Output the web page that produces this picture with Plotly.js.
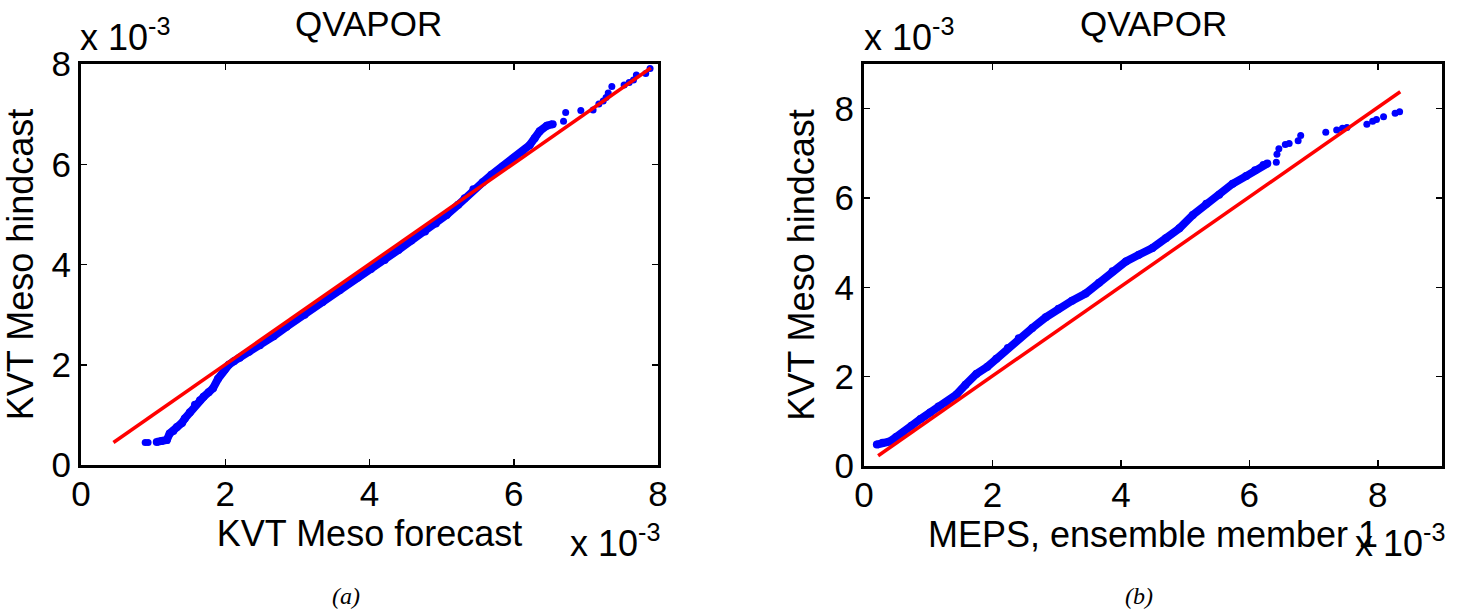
<!DOCTYPE html>
<html>
<head>
<meta charset="utf-8">
<script src="https://cdn.plot.ly/plotly-3.0.1.min.js"></script>
<style>html,body{margin:0;padding:0;background:#fff;}#chart{width:1459px;height:612px;}</style>
</head>
<body>
<div id="chart"></div>
<script>
// ---- Data (values in units of 1e-3) ----
const titleText = "QVAPOR";
const tickVals = [0, 2, 4, 6, 8];

// Panel (a): KVT Meso forecast vs KVT Meso hindcast
const aDenseX = [1.05,1.12,1.19,1.23,1.28,1.33,1.40,1.44,1.51,1.58,1.65,1.70,1.77,1.83,1.90,1.99,2.05,2.12,2.20,2.33,2.48,2.67,2.85,3.10,3.35,3.59,3.84,4.02,4.21,4.40,4.58,4.77,4.92,5.07,5.23,5.32,5.44,5.57,5.69,5.85,6.00,6.12,6.22,6.29,6.36,6.46,6.54];
const aDenseY = [0.46,0.48,0.50,0.63,0.68,0.76,0.84,0.93,1.05,1.20,1.29,1.36,1.45,1.53,1.72,1.90,2.00,2.07,2.14,2.26,2.39,2.57,2.76,3.00,3.25,3.49,3.74,3.91,4.09,4.29,4.48,4.66,4.82,4.99,5.19,5.32,5.50,5.64,5.79,5.96,6.12,6.24,6.38,6.52,6.66,6.77,6.80];
const aSparseX = [0.89,0.93,6.69,6.72,6.93,7.10,7.18,7.24,7.28,7.31,7.36,7.53,7.60,7.66,7.70,7.83,7.89];
const aSparseY = [0.45,0.45,6.86,7.03,7.07,7.08,7.20,7.26,7.33,7.42,7.55,7.58,7.63,7.68,7.78,7.81,7.91];
const aRefX = [0.45, 7.90];
const aRefY = [0.45, 7.92];

// Panel (b): MEPS ensemble member 1 vs KVT Meso hindcast
const bDenseX = [0.20,0.29,0.40,0.50,0.61,0.74,0.88,1.03,1.16,1.29,1.44,1.58,1.75,1.92,2.06,2.24,2.41,2.62,2.83,3.03,3.24,3.45,3.66,3.87,4.08,4.28,4.49,4.70,4.91,5.12,5.33,5.53,5.74,5.95,6.09,6.22,6.28];
const bDenseY = [0.48,0.52,0.55,0.65,0.75,0.90,1.05,1.20,1.33,1.42,1.60,1.82,2.06,2.22,2.40,2.64,2.86,3.09,3.33,3.52,3.70,3.86,4.10,4.36,4.58,4.73,4.88,5.10,5.32,5.62,5.87,6.07,6.32,6.49,6.62,6.74,6.77];
const bSparseX = [6.42,6.43,6.46,6.56,6.62,6.76,6.80,7.19,7.36,7.45,7.52,7.83,7.92,7.98,8.09,8.27,8.34];
const bSparseY = [6.80,6.98,7.10,7.20,7.22,7.28,7.40,7.47,7.52,7.56,7.58,7.65,7.72,7.76,7.82,7.90,7.93];
const bRefX = [0.22, 8.35];
const bRefY = [0.23, 8.38];

const xTitleA = "KVT Meso forecast";
const xTitleB = "MEPS, ensemble member 1";
const yTitle = "KVT Meso hindcast";
const expLabel = "x 10<sup>-3</sup>";
const panelLabels = ["(a)", "(b)"];

// ---- Layout helpers ----
const W = 1459, H = 612;
const px = v => v / W;
const py = v => 1 - v / H;
const FONT = "Liberation Sans, Arial, sans-serif";
const BLUE = "#0000ff", RED = "#ff0000";

function denseTrace(x, y, xa, ya) {
  return {x, y, xaxis: xa, yaxis: ya, type: "scatter", mode: "lines+markers",
    line: {color: BLUE, width: 8}, marker: {color: BLUE, size: 8}, hoverinfo: "skip"};
}
function sparseTrace(x, y, xa, ya) {
  return {x, y, xaxis: xa, yaxis: ya, type: "scatter", mode: "markers",
    marker: {color: BLUE, size: 7}, hoverinfo: "skip"};
}
function refTrace(x, y, xa, ya) {
  return {x, y, xaxis: xa, yaxis: ya, type: "scatter", mode: "lines",
    line: {color: RED, width: 3.5}, hoverinfo: "skip"};
}

const data = [
  denseTrace(aDenseX, aDenseY, "x", "y"),
  sparseTrace(aSparseX, aSparseY, "x", "y"),
  refTrace(aRefX, aRefY, "x", "y"),
  denseTrace(bDenseX, bDenseY, "x2", "y2"),
  sparseTrace(bSparseX, bSparseY, "x2", "y2"),
  refTrace(bRefX, bRefY, "x2", "y2")
];

function axisBase(range) {
  return {
    range, tickvals: tickVals, ticktext: tickVals.map(String),
    showline: true, linecolor: "#000", linewidth: 3, mirror: "ticks",
    ticks: "inside", ticklen: 6, tickwidth: 1.5, tickcolor: "#000",
    showgrid: false, zeroline: false, fixedrange: true,
    tickfont: {family: FONT, size: 35, color: "#000"}
  };
}

const layout = {
  width: W, height: H,
  margin: {l: 0, r: 0, t: 0, b: 0},
  paper_bgcolor: "#fff", plot_bgcolor: "#fff",
  showlegend: false,
  font: {family: FONT, color: "#000"},
  xaxis: Object.assign(axisBase([0, 8]), {domain: [px(81), px(658)], anchor: "y", ticklabelstandoff: -4,
    title: {text: xTitleA, font: {family: FONT, size: 36, color: "#000"}, standoff: 0}}),
  yaxis: Object.assign(axisBase([0, 8]), {domain: [py(465), py(64)], anchor: "x",
    title: {text: yTitle, font: {family: FONT, size: 36, color: "#000"}, standoff: 9}}),
  xaxis2: Object.assign(axisBase([0, 9]), {domain: [px(864), px(1442)], anchor: "y2", ticklabelstandoff: -4,
    title: {text: xTitleB, font: {family: FONT, size: 36, color: "#000"}, standoff: 0}}),
  yaxis2: Object.assign(axisBase([0, 9]), {domain: [py(466), py(64)], anchor: "x2",
    title: {text: yTitle, font: {family: FONT, size: 36, color: "#000"}, standoff: 9}}),
  annotations: [
    {text: titleText, xref: "paper", yref: "paper", x: px(369), y: py(24), showarrow: false,
     xanchor: "center", yanchor: "middle", font: {family: FONT, size: 35, color: "#000"}},
    {text: titleText, xref: "paper", yref: "paper", x: px(1153), y: py(24), showarrow: false,
     xanchor: "center", yanchor: "middle", font: {family: FONT, size: 35, color: "#000"}},
    {text: expLabel, xref: "paper", yref: "paper", x: px(78), y: py(60), showarrow: false,
     xanchor: "left", yanchor: "bottom", font: {family: FONT, size: 36, color: "#000"}},
    {text: expLabel, xref: "paper", yref: "paper", x: px(862), y: py(60), showarrow: false,
     xanchor: "left", yanchor: "bottom", font: {family: FONT, size: 36, color: "#000"}},
    {text: expLabel, xref: "paper", yref: "paper", x: px(662), y: py(566), showarrow: false,
     xanchor: "right", yanchor: "bottom", font: {family: FONT, size: 36, color: "#000"}},
    {text: expLabel, xref: "paper", yref: "paper", x: px(1447), y: py(566), showarrow: false,
     xanchor: "right", yanchor: "bottom", font: {family: FONT, size: 36, color: "#000"}},
    {text: "<i>" + panelLabels[0] + "</i>", xref: "paper", yref: "paper", x: px(346), y: py(596), showarrow: false,
     xanchor: "center", yanchor: "middle", font: {family: "Liberation Serif, Times New Roman, serif", size: 24, color: "#000"}},
    {text: "<i>" + panelLabels[1] + "</i>", xref: "paper", yref: "paper", x: px(1139), y: py(596), showarrow: false,
     xanchor: "center", yanchor: "middle", font: {family: "Liberation Serif, Times New Roman, serif", size: 24, color: "#000"}}
  ]
};

Plotly.newPlot("chart", data, layout, {staticPlot: true, displayModeBar: false});
</script>
</body>
</html>
